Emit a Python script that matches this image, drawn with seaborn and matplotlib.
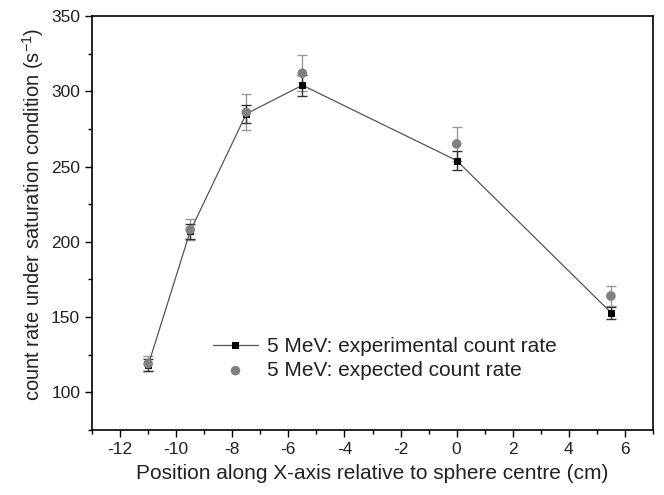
import matplotlib
matplotlib.use("Agg")
import matplotlib.pyplot as plt
import seaborn as sns
import pandas as pd
from matplotlib.ticker import MultipleLocator

sns.set_style("ticks")
plt.rcParams['font.family'] = ['Liberation Sans', 'DejaVu Sans']
plt.rcParams['mathtext.fontset'] = 'custom'
plt.rcParams['mathtext.rm'] = 'Liberation Sans'
plt.rcParams['axes.unicode_minus'] = False

positions = [-11, -9.5, -7.5, -5.5, 0, 5.5]
experimental = [118, 207, 285, 304, 254, 153]
experimental_err = [4, 5, 6, 7, 6, 4]
expected = [119, 208, 286, 312, 265, 164]
expected_err = [5, 7, 12, 12, 11, 6.5]

df = pd.DataFrame({"x": positions, "exp": experimental, "exp_err": experimental_err,
                   "pred": expected, "pred_err": expected_err})

fig = plt.figure(figsize=(6.64, 4.95), dpi=100)
ax = fig.add_axes([0.1386, 0.1313, 0.8448, 0.8364])

ax.errorbar(df["x"], df["pred"], yerr=df["pred_err"], fmt='none', ecolor='#999999',
            elinewidth=1, capsize=3.5, capthick=1, zorder=1)
ax.errorbar(df["x"], df["exp"], yerr=df["exp_err"], fmt='none', ecolor='#333333',
            elinewidth=1, capsize=3.5, capthick=1, zorder=2)

sns.lineplot(data=df, x="x", y="exp", ax=ax, color='#555555', linewidth=0.9,
             marker='s', markersize=4.5, markerfacecolor='black', markeredgecolor='black',
             label="5 MeV: experimental count rate", zorder=3)
sns.scatterplot(data=df, x="x", y="pred", ax=ax, color='#808080', s=48, edgecolor='none',
                marker='o', label="5 MeV: expected count rate", zorder=4)

ax.set_xlim(-13, 7)
ax.set_ylim(75, 350)
ax.xaxis.set_major_locator(MultipleLocator(2))
ax.xaxis.set_minor_locator(MultipleLocator(1))
ax.set_yticks([100, 150, 200, 250, 300, 350])
ax.yaxis.set_minor_locator(MultipleLocator(25))
ax.tick_params(axis='both', which='major', direction='out', length=5, width=1,
               labelsize=12.5, color='black', labelcolor='#222222')
ax.tick_params(axis='both', which='minor', direction='out', length=3, width=1, color='black')
for s in ax.spines.values():
    s.set_visible(True)
    s.set_linewidth(1.2)
    s.set_color('black')

ax.set_xlabel("Position along X-axis relative to sphere centre (cm)", fontsize=15, labelpad=5,
              color='#222222')
ax.set_ylabel("count rate under saturation condition (s$^{-1}$)", fontsize=14.5,
              color='#222222')
ax.yaxis.set_label_coords(-0.082, 0.52)

leg = ax.legend(loc='upper left', bbox_to_anchor=(0.2, 0.245), frameon=False,
                fontsize=15, handlelength=2.2, handletextpad=0.4, labelspacing=0.25,
                borderaxespad=0, markerscale=1.0)
for h in leg.legend_handles:
    try:
        h.set_sizes([48])
    except AttributeError:
        pass
for t in leg.get_texts():
    t.set_color('#222222')

fig.savefig("out.png", dpi=100)
